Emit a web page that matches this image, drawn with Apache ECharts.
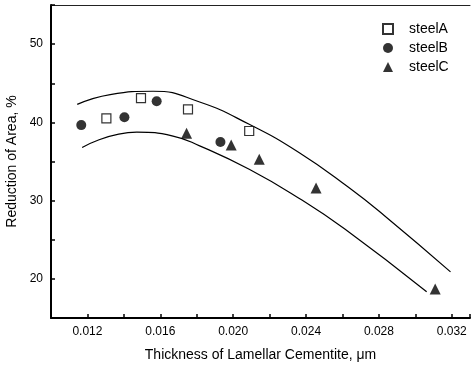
<!DOCTYPE html>
<html>
<head>
<meta charset="utf-8">
<script src="https://cdn.jsdelivr.net/npm/echarts@6/dist/echarts.min.js"></script>
<style>
html, body { margin: 0; padding: 0; background: #fff; }
#main { width: 472px; height: 367px; }
</style>
</head>
<body>
<div id="main"></div>
<script>
// measured points [thickness, reduction of area]
const steelA = [[0.01304, 40.5], [0.01494, 43.1], [0.01752, 41.65], [0.02088, 38.9]]
const steelB = [[0.01166, 39.65], [0.01403, 40.65], [0.0158, 42.7], [0.0193, 37.5]]
const steelC = [[0.01744, 38.6], [0.01989, 37.1], [0.02143, 35.3], [0.02455, 31.6], [0.03109, 18.7]]
// band curves
const upperBand = [[0.01144, 42.3], [0.01325, 43.55], [0.01561, 43.98], [0.01816, 42.6], [0.02088, 39.75],
    [0.02361, 36.15], [0.02633, 31.7], [0.02829, 28.1], [0.03193, 20.9]]
const lowerBand = [[0.01171, 36.8], [0.01471, 38.75], [0.0167, 38.25], [0.01816, 37.0], [0.02088, 34.0],
    [0.02361, 30.3], [0.02611, 26.4], [0.03062, 18.35]]

const font = 'Liberation Sans, Arial, sans-serif'

const myChart = echarts.init(document.getElementById('main'))
const option = {
    animation: false,
    textStyle: { fontFamily: font, color: '#000' },
    grid: { left: 51, right: 2, top: 5, bottom: 49, outerBoundsMode: 'none', containLabel: false },
    legend: {
        data: ['steelA', 'steelB', 'steelC'],
        orient: 'vertical',
        left: 377,
        top: 17,
        itemGap: 5,
        itemWidth: 10,
        itemHeight: 10,
        textStyle: { fontFamily: font, fontSize: 14, color: '#000', padding: [0, 0, 0, 11] }
    },
    xAxis: [{
        type: 'value',
        min: 0.010,
        max: 0.033,
        interval: 0.002,
        name: 'Thickness of Lamellar Cementite, \u03bcm',
        nameLocation: 'middle',
        nameGap: 30,
        nameTextStyle: { fontFamily: font, fontSize: 14, color: '#000' },
        axisLine: { lineStyle: { color: '#000', width: 2 } },
        axisTick: { inside: true, length: 4, lineStyle: { color: '#000', width: 1.5 } },
        axisLabel: {
            margin: 8,
            fontFamily: font,
            fontSize: 12,
            color: '#000',
            formatter: function (v) {
                const k = Math.round(v * 1000)
                return (k % 4 === 0 && k >= 12) ? v.toFixed(3) : ''
            }
        },
        splitLine: { show: false }
    }, {
        type: 'value',
        position: 'top',
        min: 0.010,
        max: 0.033,
        axisLine: { show: true, lineStyle: { color: '#222', width: 1 } },
        axisTick: { show: false },
        axisLabel: { show: false },
        splitLine: { show: false }
    }],
    yAxis: {
        type: 'value',
        min: 15,
        max: 55,
        interval: 5,
        name: 'Reduction of Area, %',
        nameLocation: 'middle',
        nameGap: 30,
        nameTextStyle: { fontFamily: font, fontSize: 14, color: '#000' },
        axisLine: { show: true, lineStyle: { color: '#000', width: 2 } },
        axisTick: { inside: true, length: 4, lineStyle: { color: '#000', width: 1.5 } },
        axisLabel: {
            margin: 8,
            fontFamily: font,
            fontSize: 12,
            color: '#000',
            formatter: function (v) {
                return (v % 10 === 0 && v < 55) ? String(v) : ''
            }
        },
        splitLine: { show: false }
    },
    series: [{
        name: 'upper',
        type: 'line',
        data: upperBand,
        smooth: true,
        showSymbol: false,
        lineStyle: { color: '#000', width: 1.2 },
        z: 1
    }, {
        name: 'lower',
        type: 'line',
        data: lowerBand,
        smooth: true,
        showSymbol: false,
        lineStyle: { color: '#000', width: 1.2 },
        z: 1
    }, {
        name: 'steelA',
        type: 'scatter',
        data: steelA,
        symbol: 'rect',
        symbolSize: 9,
        itemStyle: { color: '#fff', borderColor: '#000', borderWidth: 1.2 },
        z: 3
    }, {
        name: 'steelB',
        type: 'scatter',
        data: steelB,
        symbol: 'circle',
        symbolSize: 10,
        itemStyle: { color: '#000' },
        z: 3
    }, {
        name: 'steelC',
        type: 'scatter',
        data: steelC,
        symbol: 'triangle',
        symbolSize: 11,
        itemStyle: { color: '#000' },
        z: 3
    }]
}
myChart.setOption(option)
</script>
</body>
</html>
